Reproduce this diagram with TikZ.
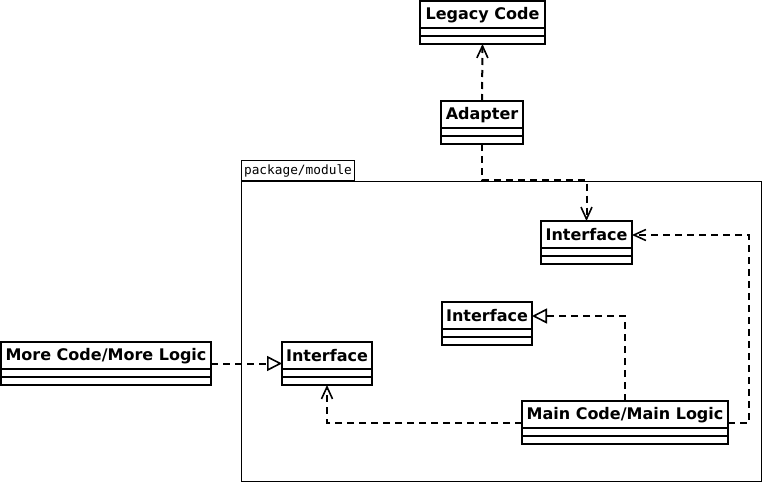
\documentclass[tikz,border=0pt]{standalone}
\usepackage{fontspec}
\setmainfont{DejaVu Sans}
\newfontfamily\pkgfont{DejaVu Sans Mono}
\usetikzlibrary{arrows.meta,calc}
\tikzset{
  classbox/.style={draw, line width=2pt, inner sep=0pt, outer sep=0pt, minimum height=43pt},
  classtitle/.style={inner sep=0pt, outer sep=0pt, minimum height=28pt, anchor=north,
    font=\fontsize{16}{18}\selectfont\bfseries},
  conn/.style={line width=2pt, dash pattern=on 7pt off 5pt},
  dep/.style={conn, -{Straight Barb[length=12pt,width=11pt,line width=1.6pt]}},
  real/.style={conn, -{Triangle[open,length=15pt,width=15pt,line width=1.6pt,fill=white]}},
}
\newcommand\umlclass[6]{% name, left, top, right, bottom(unused), text
  \node[classbox, minimum width={(#4-#2)*1pt}, anchor=north west] (#1) at (#2,#3) {};
  \node[classtitle, minimum width={(#4-#2)*1pt}] (#1t) at (#1.north) {#6};
  \draw[line width=2pt] ($(#1.north west)+(0,27)$) -- ($(#1.north east)+(0,27)$);
  \draw[line width=2pt] ($(#1.north west)+(0,35)$) -- ($(#1.north east)+(0,35)$);
}
\begin{document}
\begin{tikzpicture}[x=1pt,y=-1pt]
\useasboundingbox (0,0) rectangle (763,484);
% package frame
\draw[line width=1pt] (241,181) rectangle (761,481);
\node[draw, line width=1pt, inner sep=0pt, minimum width=113pt, minimum height=20pt,
      font=\pkgfont\fontsize{12.8}{14}\selectfont, anchor=south west] (pkg) at (241,181) {package/module};
% classes
\umlclass{legacy}{420}{1}{545}{44}{Legacy Code}
\umlclass{adapter}{441}{101}{523}{144}{Adapter}
\umlclass{ifa}{541}{221}{632}{264}{Interface}
\umlclass{ifb}{442}{302}{532}{345}{Interface}
\umlclass{ifc}{282}{342}{372}{385}{Interface}
\umlclass{main}{522}{401}{728}{444}{Main Code/Main Logic}
\umlclass{more}{1}{342}{211}{385}{More Code/More Logic}
% connectors
\coordinate (b1) at (482,180);
\coordinate (c1) at (749,422.5);
\draw[dep] (adapter.north) -- (legacy.south);
\draw[dep] (adapter.south) -- (b1) -| (ifa.north);
\draw[dep] (main.east) -- (c1) |- (ifat.east);
\draw[real] (main.north) |- (ifbt.east);
\draw[dep] (main.west) -| (ifc.south);
\draw[real] (more.east) -- (ifc.west);
\end{tikzpicture}
\end{document}
